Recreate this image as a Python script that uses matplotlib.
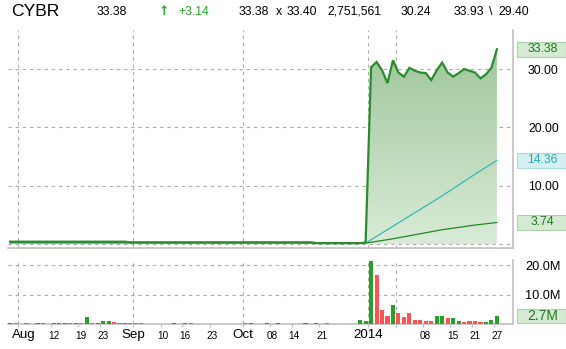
import matplotlib
matplotlib.use('Agg')
import matplotlib.pyplot as plt
import matplotlib.transforms as mtransforms
from matplotlib.patches import Rectangle, Polygon
from matplotlib.colors import LinearSegmentedColormap
import numpy as np

plt.rcParams['font.family'] = ['Liberation Sans', 'DejaVu Sans']

# one value per trading day, index 0 = first bar on the left
price = ([0.45] * 22 + [0.35] * 34 + [0.2] * 9 +
         [0.3, 30.3, 31.2, 29.8, 27.6, 31.5, 29.4, 28.7, 30.2, 29.7, 29.4,
          29.3, 28.1, 29.8, 31.1, 29.4, 28.7, 29.3, 30.0, 29.7, 29.4, 28.4,
          29.1, 30.2, 33.38])

ma50_day = [0, 65, 70, 79, 85, 89]
ma50_val = [0.25, 0.2, 3.1, 8.3, 12.0, 14.36]
ma200_day = [0, 65, 70, 79, 85, 89]
ma200_val = [0.3, 0.2, 0.95, 2.5, 3.3, 3.74]

# volume in millions, 1 = up day (green), 0 = down day (red)
volume = [0.4, 0.4, 0, 0.4, 0, 0.4, 0.4, 0, 0.4, 0.4,
          0.4, 0.55, 0.4, 0.4, 2.5, 0.45, 0.45, 1.1, 1.1, 0.8,
          0.45, 0.4, 0.4, 0.4, 0.4, 0, 0, 0, 0, 0,
          0.4, 0, 0.4, 0.4, 0, 0, 0, 0, 0, 0,
          0, 0, 0, 0.4, 0.55, 0, 0, 0.4, 0, 0.4,
          0, 0, 0, 0, 0.55, 0, 0.4, 0, 0.4, 0,
          0, 0, 0, 0, 1.34, 1.0, 21.4, 16.8, 4.7, 2.8,
          6.4, 3.7, 2.45, 3.7, 1.34, 1.34, 1.0, 1.0, 2.7, 2.7,
          2.0, 2.0, 1.0, 0.67, 1.0, 1.0, 0.67, 0.67, 1.34, 2.75]
up = [1, 0, 0, 0, 0, 1, 0, 0, 1, 1,
      1, 0, 1, 0, 1, 0, 1, 1, 1, 0,
      0, 1, 0, 0, 0, 0, 0, 0, 0, 0,
      1, 0, 1, 0, 0, 0, 0, 0, 0, 0,
      0, 0, 0, 0, 1, 0, 0, 1, 0, 1,
      0, 0, 0, 0, 1, 0, 1, 0, 0, 0,
      0, 0, 0, 0, 1, 1, 1, 0, 0, 0,
      1, 0, 0, 0, 0, 0, 0, 0, 1, 1,
      0, 1, 1, 0, 0, 0, 0, 1, 1, 1]

# x axis
tick_pos = [1.5, 7.5, 12.5, 16.5, 22.5, 27.5, 31.5, 36.5, 42.5, 47.5, 51.5,
            56.5, 65.5, 70.5, 75.5, 80.5, 84.5, 88.5]
month_pos = [2.5, 22.5, 42.5, 65.5]
month_labels = ['Aug', 'Sep', 'Oct', '2014']
day_pos = [7.5, 12.5, 16.5, 27.5, 31.5, 36.5, 47.5, 51.5, 56.5, 75.5, 80.5, 84.5, 88.5]
day_labels = ['12', '19', '23', '10', '16', '23', '08', '14', '21', '08', '15', '21', '27']
vgrid_pos = [1.5, 22.5, 42.5, 65.5, 70.5]

header = [('CYBR', 10.8, 'black', 12.6), ('33.38', 97, 'black', 8.8),
          ('+3.14', 178, '#2aa52a', 8.8),
          ('33.38', 238.5, 'black', 8.8), ('x', 275.5, 'black', 8.8),
          ('33.40', 287, 'black', 8.8), ('2,751,561', 327, 'black', 8.8),
          ('30.24', 401, 'black', 8.8), ('33.93', 453.5, 'black', 8.8),
          ('\\', 489, 'black', 8.8), ('29.40', 498.7, 'black', 8.8)]

W, H = 566, 349
GREEN = '#2a8c2a'
GRID = '#aaaaaa'
SPINE = '#c0c0c0'

fig = plt.figure(figsize=(W / 100, H / 100), dpi=100)
ax = fig.add_axes([8.3 / W, 1 - 248.3 / H, 505 / W, 218.3 / H])
axv = fig.add_axes([8.3 / W, 1 - 324.3 / H, 505 / W, 64.3 / H], sharex=ax)

x = np.arange(len(price))
price = np.array(price)

# gradient fill under the price line
verts = np.column_stack([np.r_[x, x[-1], x[0]], np.r_[price, 0, 0]])
clip = Polygon(verts, closed=True, facecolor='none', edgecolor='none')
ax.add_patch(clip)
cmap = LinearSegmentedColormap.from_list('fillg', ['#d9ebd7', '#9ec69b'])
grad = np.linspace(0, 1, 256).reshape(-1, 1)
im = ax.imshow(grad, cmap=cmap, aspect='auto', origin='lower',
               extent=(x[0], x[-1], 0, 34), zorder=1)
im.set_clip_path(clip)

ax.plot(ma200_day, ma200_val, color='#1f8a1f', lw=0.9, zorder=3)
ax.plot(ma50_day, ma50_val, color='#22b4b4', lw=0.8, zorder=3)
ax.plot(x, price, color=GREEN, lw=1.6, zorder=4, solid_joinstyle='miter')

colors = ['#26a226' if u else '#ff5252' for u in up]
axv.bar(x, volume, width=0.75, color=colors, zorder=3)

for a in (ax, axv):
    for p in vgrid_pos:
        a.axvline(p, color=GRID, lw=0.8, dashes=(3, 3.5), zorder=0)
    a.spines['top'].set_visible(False)
    a.spines['left'].set_visible(False)
    for s in ('right', 'bottom'):
        a.spines[s].set_color(SPINE)
        a.spines[s].set_linewidth(1.2)
    a.tick_params(axis='y', left=False, right=False, labelleft=False,
                  labelright=True, length=0, labelsize=8.8)
    a.set_facecolor('white')

for v in (0, 10, 20, 30):
    ax.axhline(v, color=GRID, lw=0.8, dashes=(3, 3.5), zorder=0)
for v in (10, 20):
    axv.axhline(v, color=GRID, lw=0.8, dashes=(3, 3.5), zorder=0)

ax.set_xlim(-0.33, 92.0)
ax.set_ylim(-0.68, 36.68)
axv.set_ylim(0, 21.8)

ax.set_yticks([10, 20, 30])
ax.set_yticklabels(['10.00', '20.00', '30.00'])
ax.tick_params(axis='y', pad=10.6)
axv.set_yticks([10, 20])
axv.set_yticklabels(['10.0M', '20.0M'])
axv.tick_params(axis='y', pad=8.4, labelsize=9.2)

ax.tick_params(axis='x', bottom=False, labelbottom=False)
axv.set_xticks(tick_pos)
axv.set_xticklabels([])
axv.tick_params(axis='x', length=2.2, width=0.9, color=SPINE, direction='out')

for p, s in zip(month_pos, month_labels):
    axv.annotate(s, xy=(p, 0), xycoords=('data', 'axes fraction'),
                 xytext=(0, -3.7), textcoords='offset points',
                 ha='center', va='top', fontsize=9.6)
for p, s in zip(day_pos, day_labels):
    axv.annotate(s, xy=(p + 0.45, 0), xycoords=('data', 'axes fraction'),
                 xytext=(0, -4.8), textcoords='offset points',
                 ha='center', va='top', fontsize=7.2)

# value boxes at the right edge
def value_box(a, val, text, h, face, edge, tcolor, size=8.8):
    tr = mtransforms.blended_transform_factory(fig.transFigure, a.transData)
    rect = Rectangle((517.2 / W, val - h / 2), 48.5 / W, h, transform=tr,
                     facecolor=face, edgecolor=edge, lw=0.8, clip_on=False)
    fig.add_artist(rect)
    fig.text(542.5 / W, val, text, transform=tr, ha='center', va='center',
             color=tcolor, fontsize=size)

value_box(ax, 33.38, '33.38', 2.48, '#d5ead3', '#a9d2a6', '#1e7a1e')
value_box(ax, 14.36, '14.36', 2.48, '#d7eff1', '#a6dbe0', '#2aa9b5')
value_box(ax, 3.74, '3.74', 2.48, '#d5ead3', '#a9d2a6', '#1e7a1e')
value_box(axv, 2.75, '2.7M', 4.54, '#d5ead3', '#a9d2a6', '#1e7a1e', size=10)

for s, px, c, fs in header:
    fig.text(px / W, 1 - 11.7 / H, s, ha='left', va='center', color=c, fontsize=fs)
fig.text(158.5 / W, 1 - 11.5 / H, '\u2191', ha='left', va='center',
         color='#2aa52a', fontsize=9, fontweight='bold', family='DejaVu Sans')

fig.savefig('out.png', dpi=100)
